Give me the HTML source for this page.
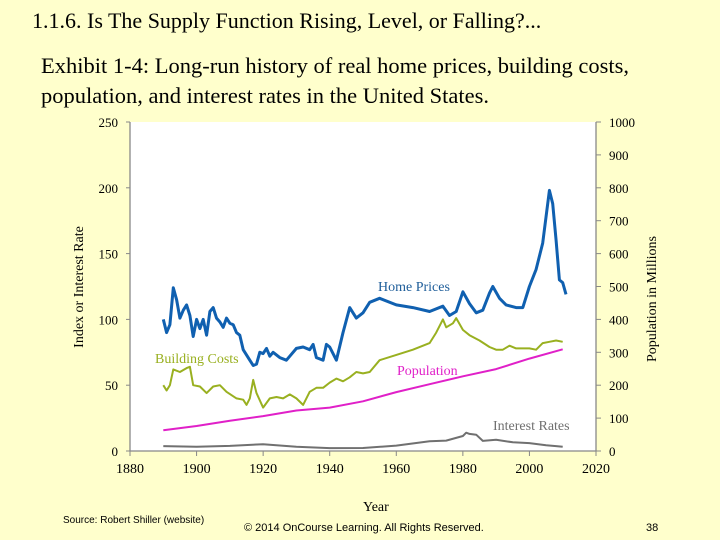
<!DOCTYPE html>
<html><head><meta charset="utf-8"><style>
body{margin:0;width:720px;height:540px;background:#FFFFCC;overflow:hidden;font-family:"Liberation Serif",serif;}
.t{position:absolute;white-space:nowrap;}
</style></head><body>
<div class="t" style="left:32px;top:8px;font-size:22px;color:#000;">1.1.6. Is The Supply Function Rising, Level, or Falling?...</div>
<div class="t" style="left:41px;top:51px;font-size:22.5px;line-height:30px;color:#000;">Exhibit 1-4: Long-run history of real home prices, building costs,<br>population, and interest rates in the United States.</div>
<svg id="chart" width="720" height="540" style="position:absolute;left:0;top:0;font-family:'Liberation Serif',serif;"></svg>
<div class="t" style="left:63px;top:515px;font-size:10px;font-family:'Liberation Sans',sans-serif;">Source: Robert Shiller (website)</div>
<div class="t" style="left:244px;top:522px;font-size:11px;font-family:'Liberation Sans',sans-serif;">© 2014 OnCourse Learning. All Rights Reserved.</div>
<div class="t" style="left:646px;top:522px;font-size:11px;font-family:'Liberation Sans',sans-serif;">38</div>
<script>
const xTicks=[1880,1900,1920,1940,1960,1980,2000,2020];
const leftTicks=[0,50,100,150,200,250];
const rightTicks=[0,100,200,300,400,500,600,700,800,900,1000];
const hpYears=[1890,1891,1892,1893,1894,1895,1896,1897,1898,1899,1900,1901,1902,1903,1904,1905,1906,1907,1908,1909,1910,1911,1912,1913,1914,1916,1917,1918,1919,1920,1921,1922,1923,1925,1927,1928,1930,1932,1934,1935,1936,1938,1939,1940,1942,1944,1946,1948,1950,1952,1955,1960,1965,1970,1974,1976,1978,1980,1982,1984,1986,1988,1989,1991,1993,1996,1998,2000,2002,2004,2006,2007,2008,2009,2010,2011];
const hpValues=[100,90,96,124,115,101,107,111,103,87,100,93,100,88,106,109,101,98,94,101,97,96,90,88,77,69,65,66,75,74,78,72,75,71,69,72,78,79,77,81,71,69,81,79,69,90,109,101,105,113,116,111,109,106,110,103,106,121,112,105,107,120,125,116,111,109,109,125,138,158,198,188,160,130,128,119];
const bcYears=[1890,1891,1892,1893,1895,1897,1898,1899,1901,1903,1905,1907,1909,1912,1914,1915,1916,1917,1918,1920,1922,1924,1926,1928,1930,1932,1934,1936,1938,1940,1942,1944,1946,1948,1950,1952,1955,1960,1965,1970,1972,1974,1975,1977,1978,1980,1982,1985,1988,1990,1992,1994,1996,2000,2002,2004,2006,2008,2010];
const bcValues=[50,46,50,62,60,63,64,50,49,44,49,50,45,40,39,35,40,54,44,33,40,41,40,43,40,35,45,48,48,52,55,53,56,60,59,60,69,73,77,82,90,100,94,97,101,92,88,84,79,77,77,80,78,78,77,82,83,84,83];
const popYears=[1890,1900,1910,1920,1930,1940,1950,1960,1970,1980,1990,2000,2010];
const popValues=[63,76,92,106,123,132,151,179,203,227,249,281,309];
const irYears=[1890,1900,1910,1920,1930,1940,1950,1960,1970,1975,1980,1981,1982,1984,1986,1990,1995,2000,2005,2008,2010];
const irValues=[3.7,3.2,3.9,5.2,3.3,2.2,2.3,4.1,7.4,7.9,11.4,13.9,13,12.4,7.7,8.6,6.6,6,4.3,3.7,3.2];

const X0=130,X1=596,Y0=451,Y1=122;
const xs=y=>X0+(y-1880)*(X1-X0)/140;
const yl=v=>Y0-v*(Y0-Y1)/250;
const yr=v=>Y0-v*(Y0-Y1)/1000;
const svg=document.getElementById('chart');
const NS='http://www.w3.org/2000/svg';
function mk(tag,attrs){const e=document.createElementNS(NS,tag);for(const k in attrs)e.setAttribute(k,attrs[k]);svg.appendChild(e);return e;}
let r=mk('rect',{x:X0,y:Y1,width:X1-X0,height:Y0-Y1,fill:'#fff'});


let ax=mk('path',{d:`M${X0},${Y1}V${Y0}H${X1}V${Y1}`,stroke:'#888',fill:'none','stroke-width':1.3});


xTicks.forEach(t=>{
  mk('line',{x1:xs(t),x2:xs(t),y1:Y0,y2:Y0+5,stroke:'#888'});
  const e=mk('text',{x:xs(t),y:Y0+22,'text-anchor':'middle','font-size':14});e.textContent=t;
  
  
});
leftTicks.forEach(t=>{
  mk('line',{x1:X0-4,x2:X0,y1:yl(t),y2:yl(t),stroke:'#888'});
  const e=mk('text',{x:X0-12,y:yl(t)+5,'text-anchor':'end','font-size':13});e.textContent=t;
  
  
});
rightTicks.forEach(t=>{
  mk('line',{x1:X1,x2:X1+5,y1:yr(t),y2:yr(t),stroke:'#888'});
  const e=mk('text',{x:X1+13,y:yr(t)+5,'font-size':13});e.textContent=t;
  
  
});
function line(xsArr,vs,f,color,w,name){
  const d=xsArr.map((y,i)=>(i?'L':'M')+xs(y).toFixed(1)+','+f(vs[i]).toFixed(1)).join('');
  const p=mk('path',{d:d,stroke:color,fill:'none','stroke-width':w,'stroke-linejoin':'round'});
  
  
}
line(irYears,irValues,yl,'#707070',2,'interest-rates-line');
line(popYears,popValues,yr,'#E020C8',2,'population-line');
line(bcYears,bcValues,yl,'#99B020',2,'building-costs-line');
line(hpYears,hpValues,yl,'#1060B0',3,'home-prices-line');
function lab(x,y,txt,c,name,extra){const e=mk('text',Object.assign({x:x,y:y,fill:c,'font-size':14},extra||{}));e.textContent=txt;
  
  return e;}
lab(378,291,'Home Prices','#1F5E9A','home-prices-label');
lab(155,363,'Building Costs','#99B020','building-costs-label');
lab(397,375,'Population','#E020C8','population-label');
lab(493,430,'Interest Rates','#707070','interest-rates-label');
lab(363,511,'Year','#000','x-axis-title');
lab(83,287,'Index or Interest Rate','#000','left-axis-title',{transform:'rotate(-90 83 287)','text-anchor':'middle'});
lab(656,299,'Population in Millions','#000','right-axis-title',{transform:'rotate(-90 656 299)','text-anchor':'middle'});
</script>
</body></html>
